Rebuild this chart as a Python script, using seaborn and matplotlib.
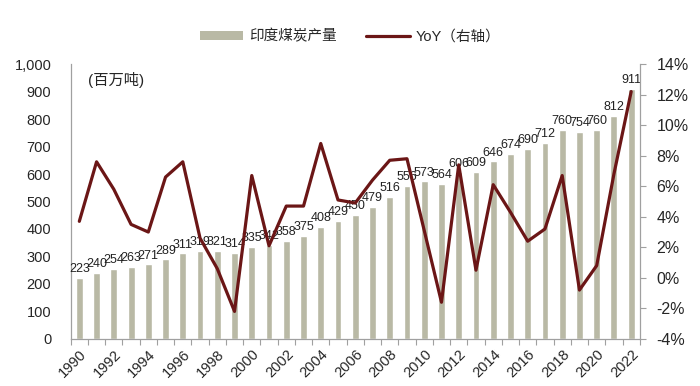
import numpy as np
import pandas as pd
import matplotlib
matplotlib.use("Agg")
import matplotlib.pyplot as plt
import seaborn as sns
from matplotlib.patches import Patch
from matplotlib.lines import Line2D
from matplotlib.ticker import FuncFormatter, MultipleLocator

# data
years = list(range(1990, 2023))
output = [223, 240, 254, 263, 271, 289, 311, 319, 321, 314, 335, 342, 358, 375, 408,
          429, 450, 479, 516, 556, 573, 564, 606, 609, 646, 674, 690, 712, 760, 754,
          760, 812, 911]
yoy = [3.7, 7.6, 5.8, 3.5, 3.0, 6.6, 7.6, 2.6, 0.6, -2.2, 6.7, 2.1, 4.7, 4.7, 8.8,
       5.1, 4.9, 6.4, 7.7, 7.8, 3.1, -1.6, 7.4, 0.5, 6.1, 4.3, 2.4, 3.2, 6.7, -0.8,
       0.8, 6.8, 12.2]

df = pd.DataFrame({"year": years, "output": output, "yoy": yoy})

bar_color = "#b9b9a5"
line_color = "#6b1616"
axis_gray = "#a0a0a0"

sns.set_theme(style="white")
plt.rcParams["font.family"] = ["Liberation Sans", "Noto Sans CJK SC"]
plt.rcParams["axes.unicode_minus"] = False

fig = plt.figure(figsize=(7, 3.86), dpi=100)
ax = fig.add_axes([0.101, 0.122, 0.813, 0.712])

sns.barplot(data=df, x="year", y="output", native_scale=True, width=0.4,
            color=bar_color, saturation=1, ax=ax)
ax.bar_label(ax.containers[0], fontsize=9, padding=2, color="#222222")

ax2 = ax.twinx()
sns.lineplot(data=df, x="year", y="yoy", color=line_color, linewidth=2.3, ax=ax2)

# axes limits / ticks
ax.set_xlim(1989.5, 2022.5)
ax.set_ylim(0, 1000)
ax2.set_ylim(-4, 14)
ax.yaxis.set_major_locator(MultipleLocator(100))
ax.yaxis.set_major_formatter(FuncFormatter(lambda v, p: f"{int(v):,}"))
ax2.yaxis.set_major_locator(MultipleLocator(2))
ax2.yaxis.set_major_formatter(FuncFormatter(lambda v, p: f"{int(v)}%"))

ax.set_xticks(years[::2])
ax.set_xticklabels([str(y) for y in years[::2]], rotation=45, ha="right",
                   rotation_mode="anchor", fontsize=10.5)
ax.set_xticks(np.arange(1989.5, 2023, 1), minor=True)
ax.tick_params(axis="x", which="major", length=0, pad=6)
ax.tick_params(axis="x", which="minor", length=4, width=0.8, color=axis_gray,
               direction="out", bottom=True)
ax.tick_params(axis="y", labelsize=10.5, length=0, pad=14)
ax2.tick_params(axis="y", labelsize=11.5, length=4, width=0.8, color=axis_gray,
                direction="out", right=True, pad=8)

ax.set_xlabel("")
ax.set_ylabel("")
ax2.set_xlabel("")
ax2.set_ylabel("")

for a in (ax, ax2):
    a.spines["top"].set_visible(False)
    for s in ("left", "right", "bottom"):
        a.spines[s].set_color(axis_gray)
        a.spines[s].set_linewidth(0.9)
ax2.spines["left"].set_visible(False)
ax.spines["right"].set_visible(False)
ax2.spines["bottom"].set_visible(False)

ax.text(0.03, 0.97, "(百万吨)", transform=ax.transAxes, fontsize=11,
        ha="left", va="top")

handles = [Patch(facecolor=bar_color, edgecolor="none"),
           Line2D([0], [0], color=line_color, linewidth=2.3)]
fig.legend(handles, ["印度煤炭产量", "YoY（右轴）"], loc="center",
           bbox_to_anchor=(0.5, 0.905), ncol=2, frameon=False, fontsize=10.5,
           handlelength=3.0, handleheight=0.5, handletextpad=0.4, columnspacing=2.0)

fig.savefig("out.png", dpi=100)
